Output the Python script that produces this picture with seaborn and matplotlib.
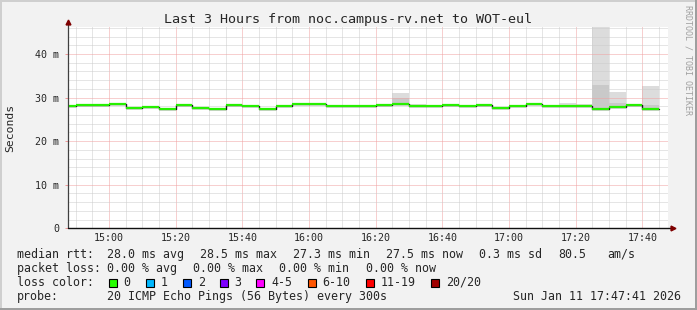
import matplotlib
matplotlib.use("Agg")
import matplotlib.pyplot as plt
import seaborn as sns
import pandas as pd
import numpy as np
from matplotlib.patches import Rectangle

# ---------------- data ----------------
interval_start = ["14:45", "14:50", "14:55", "15:00", "15:05", "15:10", "15:15", "15:20",
                  "15:25", "15:30", "15:35", "15:40", "15:45", "15:50", "15:55", "16:00",
                  "16:05", "16:10", "16:15", "16:20", "16:25", "16:30", "16:35", "16:40",
                  "16:45", "16:50", "16:55", "17:00", "17:05", "17:10", "17:15", "17:20",
                  "17:25", "17:30", "17:35", "17:40"]
median_ms = [28.1, 28.35, 28.35, 28.6, 27.7, 27.9, 27.45, 28.35,
             27.7, 27.45, 28.35, 28.1, 27.45, 28.1, 28.5, 28.5,
             28.1, 28.1, 28.1, 28.35, 28.5, 28.1, 28.1, 28.35,
             28.1, 28.35, 27.7, 28.1, 28.5, 28.1, 28.1, 28.1,
             27.45, 27.9, 28.2, 27.45]
smoke_lo = [27.9, 28.15, 28.15, 28.4, 27.5, 27.7, 27.25, 28.15,
            27.5, 27.25, 28.15, 27.9, 27.25, 27.9, 28.3, 28.3,
            27.9, 27.9, 27.9, 28.15, 28.3, 27.9, 27.9, 28.15,
            27.9, 28.15, 27.5, 27.9, 28.3, 27.9, 27.9, 27.9,
            27.3, 27.7, 28.0, 27.3]
smoke_hi = [28.3, 28.55, 28.55, 28.8, 27.9, 28.1, 27.65, 28.55,
            27.9, 27.65, 28.55, 28.3, 27.65, 28.3, 28.7, 28.7,
            28.3, 28.3, 28.3, 28.55, 31.1, 28.5, 28.3, 28.55,
            28.3, 28.55, 27.9, 28.3, 28.7, 28.3, 28.8, 28.5,
            47.0, 31.3, 28.5, 32.65]
smoke_core_hi = [28.1, 28.35, 28.35, 28.6, 27.7, 27.9, 27.45, 28.35,
                 27.7, 27.45, 28.35, 28.1, 27.45, 28.1, 28.5, 28.5,
                 28.1, 28.1, 28.1, 28.35, 29.8, 28.1, 28.1, 28.35,
                 28.1, 28.35, 27.7, 28.1, 28.5, 28.1, 28.2, 28.2,
                 32.9, 28.8, 28.3, 28.3]
view_start, view_end = "14:47:41", "17:47:41"
x_tick_labels = ["15:00", "15:20", "15:40", "16:00", "16:20", "16:40", "17:00", "17:20", "17:40"]
y_tick_values = [0, 10, 20, 30, 40]
y_tick_labels = ["0", "10 m", "20 m", "30 m", "40 m"]
loss_labels = ["0", "1", "2", "3", "4-5", "6-10", "11-19", "20/20"]
loss_colors = ["#26ff00", "#00b8ff", "#0059ff", "#7e00ff", "#ff00ff", "#ff5500", "#ff0000", "#a10000"]
legend_rows = [
    [("median rtt:", 16.7), ("28.0 ms avg", 107.3), ("28.5 ms max", 200.0), ("27.3 ms min", 293.3),
     ("27.5 ms now", 386.0), ("0.3 ms sd", 479.3), ("80.5", 558.3), ("am/s", 607.3)],
    [("packet loss:", 16.7), ("0.00 % avg", 107.3), ("0.00 % max", 193.3), ("0.00 % min", 279.3),
     ("0.00 % now", 366.0)],
    [("loss color:", 16.7)],
    [("probe:", 16.7), ("20 ICMP Echo Pings (56 Bytes) every 300s", 107.3),
     ("Sun Jan 11 17:47:41 2026", 513.3)],
]
swatch_x = [108.5, 146.0, 183.0, 219.5, 256.3, 307.5, 366.0, 431.3]
title = "Last 3 Hours from noc.campus-rv.net to WOT-eul"


def hm(s):
    p = [int(v) for v in s.split(":")]
    return p[0] * 60 + p[1] + (p[2] / 60 if len(p) > 2 else 0)


# ---------------- figure ----------------
W, H = 697, 310
sns.set_style("white")
plt.rcParams["font.family"] = ["DejaVu Sans Mono", "DejaVu Sans"]
fig = plt.figure(figsize=(W / 100, H / 100), dpi=100, facecolor="#f2f2f2")

L, R, T, B = 68, 668, 27, 228.3
ax = fig.add_axes([L / W, 1 - B / H, (R - L) / W, (B - T) / H])
ax.set_facecolor("white")

starts = np.array([hm(s) for s in interval_start])
ends = starts + 5
med = np.array(median_ms)

# smoke
ax.bar(starts, np.array(smoke_hi) - np.array(smoke_lo), bottom=smoke_lo, width=5,
       align="edge", color="#dcdcdc", linewidth=0, zorder=1)
ax.bar(starts, np.array(smoke_core_hi) - np.array(smoke_lo), bottom=smoke_lo, width=5,
       align="edge", color="#c9c9c9", linewidth=0, zorder=1.1)

# median line: dark steps + green levels
df = pd.DataFrame({"t": list(starts) + [ends[-1]], "ms": list(med) + [med[-1]]})
sns.lineplot(data=df, x="t", y="ms", drawstyle="steps-post", color="#1a1a1a",
             lw=1.0, estimator=None, ax=ax, zorder=3)
ax.hlines(med, starts, ends, colors="#26f000", lw=1.6, zorder=4)

ax.set_xlim(hm(view_start), hm(view_end))
ax.set_ylim(0, 46.2)

ax.set_xticks([hm(s) for s in x_tick_labels])
ax.set_xticklabels(x_tick_labels)
ax.set_xticks(np.arange(hm("14:50"), hm(view_end), 5), minor=True)
ax.set_yticks(y_tick_values)
ax.set_yticklabels(y_tick_labels)
ax.set_yticks(np.arange(0, 46.2, 2), minor=True)
ax.set_xlabel("")
ax.set_ylabel("")

ax.set_axisbelow(False)
ax.grid(which="minor", color="#cccccc", linestyle=(0, (1, 1)), linewidth=0.72)
ax.grid(which="major", color="#f0a0a0", linestyle=(0, (1, 1)), linewidth=0.72)
ax.tick_params(axis="both", which="minor", length=0)
ax.tick_params(axis="y", which="major", length=3 * 0.72, width=0.72, color="#ef9a9a",
               pad=4, labelsize=7.2, direction="out", left=True)
ax.tick_params(axis="x", which="major", length=0, pad=3.5, labelsize=7.2, bottom=True)

for s in ax.spines.values():
    s.set_visible(False)

# axis lines with arrows
ax.plot([0, 0], [0, 1 + 4 / (B - T)], transform=ax.transAxes, color="#404040",
        lw=0.9, clip_on=False, zorder=5)
ax.plot([0, 1 + 3 / (R - L)], [0, 0], transform=ax.transAxes, color="#101010",
        lw=1.0, clip_on=False, zorder=5)
ax.plot([0], [1 + 5 / (B - T)], transform=ax.transAxes, marker="^", color="#7f0000",
        markersize=3.5, clip_on=False, zorder=6)
ax.plot([1 + 5 / (R - L)], [0], transform=ax.transAxes, marker=">", color="#7f0000",
        markersize=3.5, clip_on=False, zorder=6)


def ftext(x, y, s, **kw):
    kw.setdefault("va", "center")
    kw.setdefault("ha", "left")
    fig.text(x / W, 1 - y / H, s, **kw)


ftext(348, 19, title, ha="center", fontsize=9.6)
ftext(10, 128, "Seconds", ha="center", rotation=90, fontsize=8.2)
ftext(688, 60, "RRDTOOL / TOBI OETIKER", ha="center", rotation=-90, fontsize=6,
      color="#a0a0a0")

row_y = [254.3, 268.2, 282.3, 296.2]
for row, yy in zip(legend_rows, row_y):
    for txt, xx in row:
        ftext(xx, yy, txt, fontsize=8.4)

for lab, col, sx in zip(loss_labels, loss_colors, swatch_x):
    fig.patches.append(Rectangle((sx / W, 1 - 286.5 / H), 8 / W, 8 / H,
                                 transform=fig.transFigure, facecolor=col,
                                 edgecolor="black", linewidth=0.8))
    ftext(sx + 14.8, row_y[2], lab, fontsize=8.4)

# 3D-style frame
fig.patches.append(Rectangle((0, 1 - 2 / H), 1, 2 / H, transform=fig.transFigure,
                             facecolor="#cfcfcf", edgecolor="none"))
fig.patches.append(Rectangle((0, 0), 2 / W, 1, transform=fig.transFigure,
                             facecolor="#cfcfcf", edgecolor="none"))
fig.patches.append(Rectangle((0, 0), 1, 2 / H, transform=fig.transFigure,
                             facecolor="#9e9e9e", edgecolor="none"))
fig.patches.append(Rectangle((1 - 2 / W, 0), 2 / W, 1, transform=fig.transFigure,
                             facecolor="#9e9e9e", edgecolor="none"))

fig.savefig("out.png", dpi=100, facecolor=fig.get_facecolor())
